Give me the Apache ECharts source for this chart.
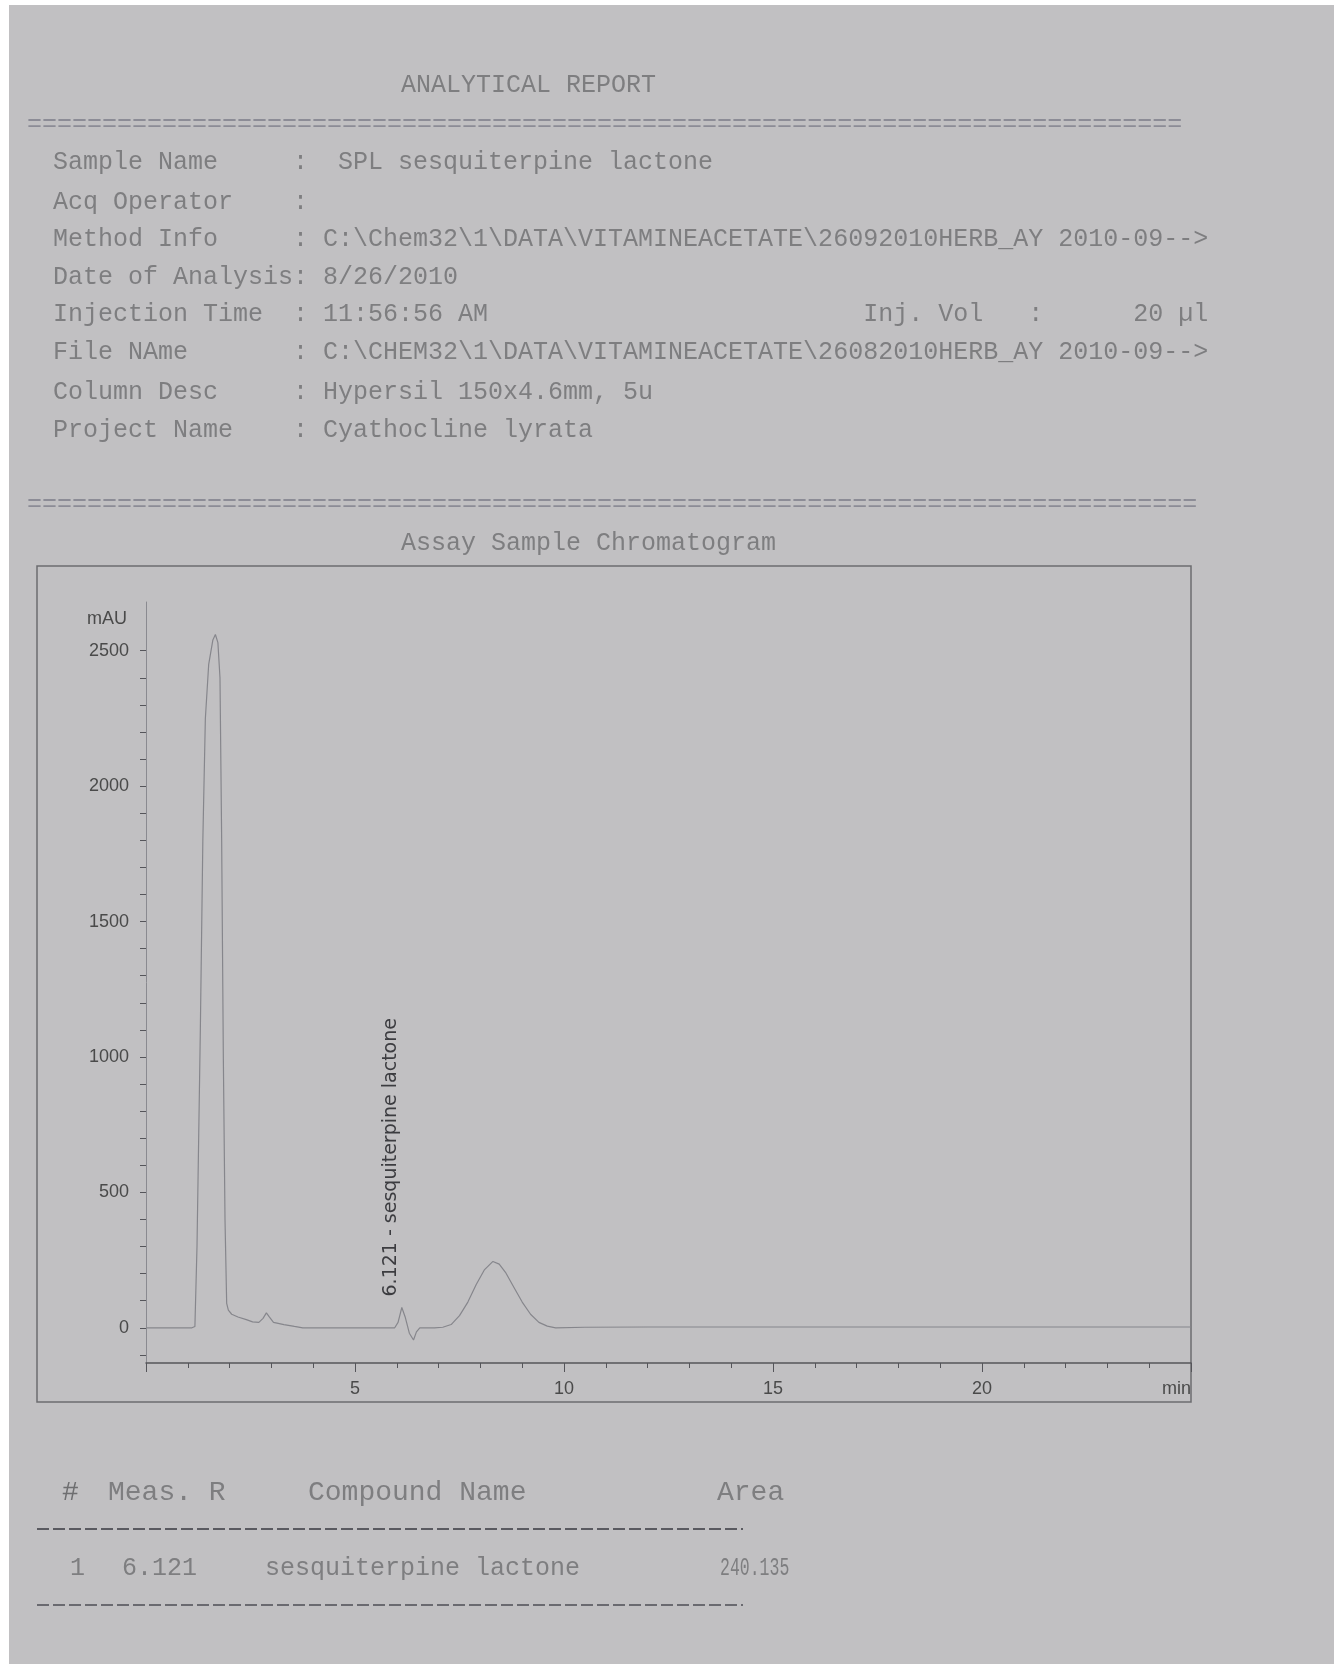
<!DOCTYPE html>
<html>
<head>
<meta charset="utf-8">
<title>Analytical Report - Assay Sample Chromatogram</title>
<script src="https://cdn.jsdelivr.net/npm/echarts@6/dist/echarts.min.js"></script>
<style>
  html, body { margin: 0; padding: 0; background: #ffffff; }
  #report { width: 1340px; height: 1664px; }
</style>
</head>
<body>
<div id="report"></div>
<script>
  // chromatogram trace (min / mAU)
  const retentionTime = [0, 1.10, 1.17, 1.22, 1.30, 1.36, 1.42, 1.50, 1.60, 1.66, 1.72, 1.77, 1.81, 1.85, 1.89, 1.93,
    1.97, 2.05, 2.20, 2.40, 2.55, 2.70, 2.80, 2.88, 2.95, 3.05, 3.30, 3.55, 3.75, 4.5, 5.5, 5.95, 6.03, 6.12, 6.20,
    6.30, 6.40, 6.47, 6.55, 6.9, 7.1, 7.3, 7.5, 7.7, 7.9, 8.1, 8.3, 8.45, 8.6, 8.8, 9.0, 9.2, 9.4, 9.6, 9.8, 10.5,
    12, 15, 20, 25]
  const absorbance = [0, 0, 5, 300, 1100, 1800, 2250, 2450, 2540, 2560, 2530, 2400, 1800, 1000, 400, 90,
    65, 50, 40, 30, 22, 20, 35, 55, 40, 20, 12, 5, 0, 0, 0, 0, 20, 75, 40,
    -20, -45, -15, 0, 0, 2, 12, 45, 95, 160, 215, 245, 235, 205, 150, 95, 50, 20, 6, 0, 2,
    3, 3, 3, 3]

  const yTickLabels = [0, 500, 1000, 1500, 2000, 2500]
  const yMinorTicks = [-100, 0, 100, 200, 300, 400, 500, 600, 700, 800, 900, 1000, 1100, 1200, 1300, 1400,
    1500, 1600, 1700, 1800, 1900, 2000, 2100, 2200, 2300, 2400, 2500]

  const peakName = 'sesquiterpine lactone'
  const peakRT = 6.121
  const peakArea = '240.135'

  const headerLabels = ['Sample Name', 'Acq Operator', 'Method Info', 'Date of Analysis', 'Injection Time',
    'File NAme', 'Column Desc', 'Project Name']
  const headerValues = [' SPL sesquiterpine lactone', '', 'C:\\Chem32\\1\\DATA\\VITAMINEACETATE\\26092010HERB_AY 2010-09-->',
    '8/26/2010', '11:56:56 AM', 'C:\\CHEM32\\1\\DATA\\VITAMINEACETATE\\26082010HERB_AY 2010-09-->',
    'Hypersil 150x4.6mm, 5u', 'Cyathocline lyrata']
  const headerRowY = [162, 202, 239, 277, 314, 352, 392, 430]

  const mono = 'Liberation Mono, Courier New, monospace'
  const sans = 'Liberation Sans, Arial, sans-serif'
  const textGray = '#7e7e80'

  let chart = echarts.init(document.getElementById('report'))

  function pad(s, n) {
    while (s.length < n) s += ' '
    return s
  }

  function monoText(x, y, text, size, color, extra) {
    return Object.assign({
      type: 'text',
      x: x,
      y: y,
      style: {
        text: text,
        font: size + 'px ' + mono,
        fill: color || textGray,
        align: 'left',
        verticalAlign: 'middle'
      }
    }, extra || {})
  }

  let graphics = [
    // the scanned page
    {type: 'rect', z: -10, shape: {x: 9, y: 5, width: 1325, height: 1659}, style: {fill: '#c1c0c2'}},
    monoText(401, 85, 'ANALYTICAL REPORT', 25),
    monoText(27, 124, '='.repeat(77), 25, '#8c8c96'),
    monoText(27, 504, '='.repeat(78), 25, '#8c8c96'),
    monoText(401, 543, 'Assay Sample Chromatogram', 25),
    // chart frame
    {type: 'rect', shape: {x: 37, y: 566, width: 1154, height: 836}, style: {fill: null, stroke: '#6c6c70', lineWidth: 1.5}},
    {type: 'text', x: 127, y: 619, style: {text: 'mAU', font: '18px ' + sans, fill: '#4a4a4a', align: 'right', verticalAlign: 'middle'}},
    // results table
    monoText(62, 1493, '#', 28, '#6e6e70'),
    monoText(108, 1493, 'Meas. R', 28),
    monoText(308, 1493, 'Compound Name', 28),
    monoText(717, 1493, 'Area', 28),
    {type: 'line', shape: {x1: 37, y1: 1529, x2: 743, y2: 1529}, style: {stroke: '#5a5a60', lineWidth: 2, lineDash: [12, 4]}},
    monoText(70, 1568, '1', 25),
    monoText(122, 1568, peakRT.toFixed(3), 25),
    monoText(265, 1568, peakName, 25),
    monoText(720, 1568, peakArea, 25, textGray, {scaleX: 0.66}),
    {type: 'line', shape: {x1: 37, y1: 1605, x2: 743, y2: 1605}, style: {stroke: '#6a6a70', lineWidth: 2, lineDash: [12, 4]}}
  ]

  headerLabels.forEach(function (label, i) {
    let line = pad(label, 16) + ': ' + headerValues[i]
    if (i === 4) line = pad(line, 54) + 'Inj. Vol   :      20 \u00b5l'
    graphics.push(monoText(53, headerRowY[i], line, 25))
  })

  let option = {
    backgroundColor: '#ffffff',
    animation: false,
    grid: {
      left: 146,
      right: 149,
      top: 602,
      bottom: 301
    },
    xAxis: {
      type: 'value',
      min: 0,
      max: 25,
      interval: 5,
      name: 'min',
      nameLocation: 'end',
      nameGap: 0,
      nameTextStyle: {
        color: '#4a4a4a',
        fontFamily: sans,
        fontSize: 18,
        align: 'right',
        verticalAlign: 'top',
        padding: [17, 0, 0, 0]
      },
      axisLine: {onZero: false, lineStyle: {color: '#55555a', width: 1.5}},
      axisTick: {length: 9, lineStyle: {color: '#55555a'}},
      minorTick: {show: true, splitNumber: 5, length: 5, lineStyle: {color: '#55555a'}},
      axisLabel: {
        margin: 17,
        color: '#4a4a4a',
        fontFamily: sans,
        fontSize: 18,
        formatter: function (v) {
          return (v === 0 || v === 25) ? '' : String(v)
        }
      },
      splitLine: {show: false}
    },
    yAxis: {
      type: 'value',
      min: -130,
      max: 2680,
      axisLine: {show: true, lineStyle: {color: '#8a8a90', width: 1}},
      axisTick: {show: true, length: 6, customValues: yMinorTicks, lineStyle: {color: '#55555a'}},
      axisLabel: {
        margin: 17,
        color: '#4a4a4a',
        fontFamily: sans,
        fontSize: 18,
        customValues: yTickLabels,
        formatter: function (v) {
          return String(v)
        }
      },
      splitLine: {show: false}
    },
    series: [{
      type: 'line',
      data: retentionTime.map(function (t, i) { return [t, absorbance[i]] }),
      showSymbol: false,
      lineStyle: {color: '#86868c', width: 1.2}
    }],
    graphic: graphics
  }

  chart.setOption(option)

  // peak label, placed from the data point of the labelled peak
  let apex = chart.convertToPixel({gridIndex: 0}, [peakRT, 75])
  graphics.push({
    type: 'text',
    x: apex[0] - 11,
    y: apex[1] - 11,
    rotation: Math.PI / 2,
    style: {
      text: peakRT.toFixed(3) + ' - ' + peakName,
      font: '19px DejaVu Sans, sans-serif',
      fill: '#3c3c40',
      align: 'left',
      verticalAlign: 'middle'
    }
  })
  chart.setOption({graphic: graphics})
</script>
</body>
</html>
